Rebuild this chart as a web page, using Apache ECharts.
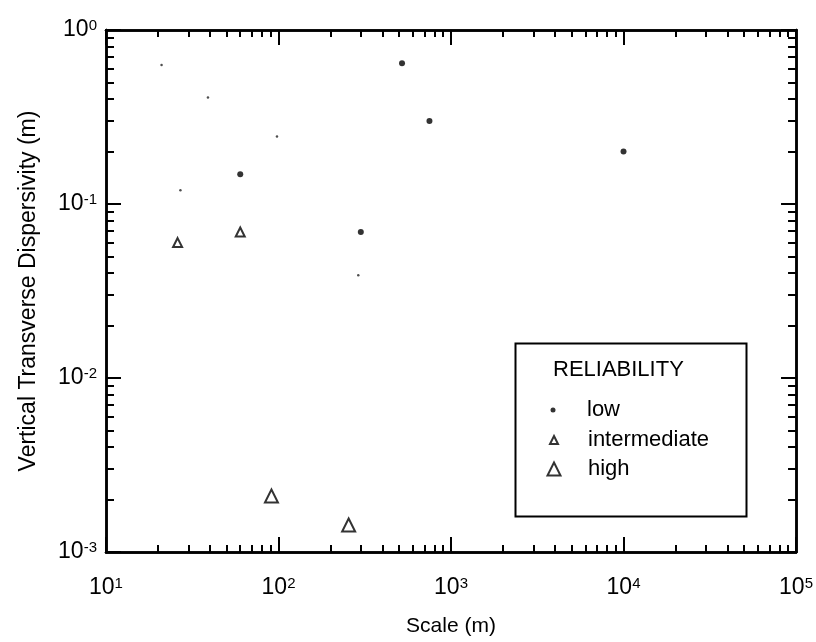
<!DOCTYPE html>
<html>
<head>
<meta charset="utf-8">
<script src="https://cdn.jsdelivr.net/npm/echarts@6/dist/echarts.min.js"></script>
<style>
  html, body { margin: 0; padding: 0; background: #fff; }
  #chart { width: 816px; height: 642px; }
</style>
</head>
<body>
<div id="chart"></div>
<script>
// reliability groups
const lowX = [60, 520, 750, 300, 10000];
const lowY = [0.148, 0.645, 0.30, 0.069, 0.20];
const faintX = [21, 39, 98, 27, 290];
const faintY = [0.63, 0.41, 0.244, 0.12, 0.039];
const interX = [26, 60];
const interY = [0.060, 0.069];
const highX = [91, 255];
const highY = [0.0021, 0.00143];

const legendNames = ['low', 'intermediate', 'high'];
const xMajor = [10, 100, 1000, 10000, 100000];
const yMajor = [0.001, 0.01, 0.1, 1];
const minorSteps = [2, 3, 4, 5, 6, 7, 8, 9];

const font = '"Liberation Sans", Arial, sans-serif';
const black = '#000';

function minorOf(major) {
  const out = [];
  major.slice(0, -1).forEach((m) => minorSteps.forEach((s) => out.push(+(m * s).toPrecision(6))));
  return out;
}

function pairs(xs, ys) {
  return xs.map((x, i) => [x, ys[i]]);
}

const powLabel = {
  formatter: (v) => '{b|10}{s|' + Math.round(Math.log10(v)) + '}',
  rich: {
    b: { fontSize: 23, fontFamily: font, color: black, verticalAlign: 'bottom' },
    s: { fontSize: 15, fontFamily: font, color: black, verticalAlign: 'top' }
  }
};

// one axis per side for major ticks, one more for minor ticks
function makeAxis(dim, position, min, max, ticks, len, label) {
  const ax = {
    type: 'log',
    logBase: 10,
    min: min,
    max: max,
    position: position,
    axisLine: { onZero: false, lineStyle: { color: black, width: 2.5 } },
    axisTick: { inside: true, length: len, customValues: ticks, lineStyle: { color: black, width: 2 } },
    axisLabel: { show: false },
    splitLine: { show: false },
    minorTick: { show: false }
  };
  if (label) {
    ax.axisLabel = Object.assign({ show: true, customValues: ticks, margin: dim === 'x' ? 24 : 9 }, powLabel);
  }
  return ax;
}

const xAxis = [
  makeAxis('x', 'bottom', 10, 100000, xMajor, 15, true),
  makeAxis('x', 'bottom', 10, 100000, minorOf(xMajor), 7, false),
  makeAxis('x', 'top', 10, 100000, xMajor, 15, false),
  makeAxis('x', 'top', 10, 100000, minorOf(xMajor), 7, false)
];
Object.assign(xAxis[0], {
  name: 'Scale (m)',
  nameLocation: 'middle',
  nameGap: 64,
  nameTextStyle: { fontSize: 21, fontFamily: font, color: black }
});

const yAxis = [
  makeAxis('y', 'left', 0.001, 1, yMajor, 15, true),
  makeAxis('y', 'left', 0.001, 1, minorOf(yMajor), 8, false),
  makeAxis('y', 'right', 0.001, 1, yMajor, 15, false),
  makeAxis('y', 'right', 0.001, 1, minorOf(yMajor), 8, false)
];
Object.assign(yAxis[0], {
  name: 'Vertical Transverse Dispersivity (m)',
  nameLocation: 'middle',
  nameGap: 66,
  nameTextStyle: { fontSize: 23, fontFamily: font, color: black }
});

const hollow = { color: '#fff', borderColor: black, borderWidth: 2 };

// legend rows: one legend per row so each icon keeps its own size
const legendIcons = ['circle', 'triangle', 'triangle'];
const legendSizes = [5, 8, 13];
const legendCenters = [410, 440, 469];

const option = {
  backgroundColor: '#fff',
  animation: false,
  grid: { left: 106, right: 18, top: 30, bottom: 87, containLabel: false },
  xAxis: xAxis,
  yAxis: yAxis,
  legend: legendNames.map((name, i) => ({
    data: [{ name: name, icon: legendIcons[i] }],
    orient: 'vertical',
    left: 553 - legendSizes[i] / 2,
    top: legendCenters[i] - 13,
    padding: 0,
    itemWidth: legendSizes[i],
    itemHeight: legendSizes[i],
    selectedMode: false,
    textStyle: {
      fontSize: 22,
      fontFamily: font,
      color: black,
      lineHeight: 26,
      padding: [0, 0, 0, 587 - (553 + legendSizes[i] / 2) - 5]
    }
  })),
  graphic: [
    {
      type: 'rect',
      left: 513,
      top: 341,
      shape: { width: 231, height: 173 },
      style: { fill: 'none', stroke: black, lineWidth: 2 }
    },
    {
      type: 'text',
      left: 553,
      top: 359,
      style: { text: 'RELIABILITY', fontSize: 22, fontFamily: font, fill: black }
    }
  ],
  series: [
    {
      name: 'low',
      type: 'scatter',
      data: pairs(lowX, lowY),
      symbol: 'circle',
      symbolSize: 6,
      itemStyle: { color: black }
    },
    {
      name: 'faint',
      type: 'scatter',
      data: pairs(faintX, faintY),
      symbol: 'circle',
      symbolSize: 2.5,
      itemStyle: { color: '#222' }
    },
    {
      name: 'intermediate',
      type: 'scatter',
      data: pairs(interX, interY),
      symbol: 'triangle',
      symbolSize: 9,
      itemStyle: hollow
    },
    {
      name: 'high',
      type: 'scatter',
      data: pairs(highX, highY),
      symbol: 'triangle',
      symbolSize: 13,
      itemStyle: hollow
    }
  ]
};

const chart = echarts.init(document.getElementById('chart'), null, { renderer: 'canvas' });
chart.setOption(option);
</script>
</body>
</html>
